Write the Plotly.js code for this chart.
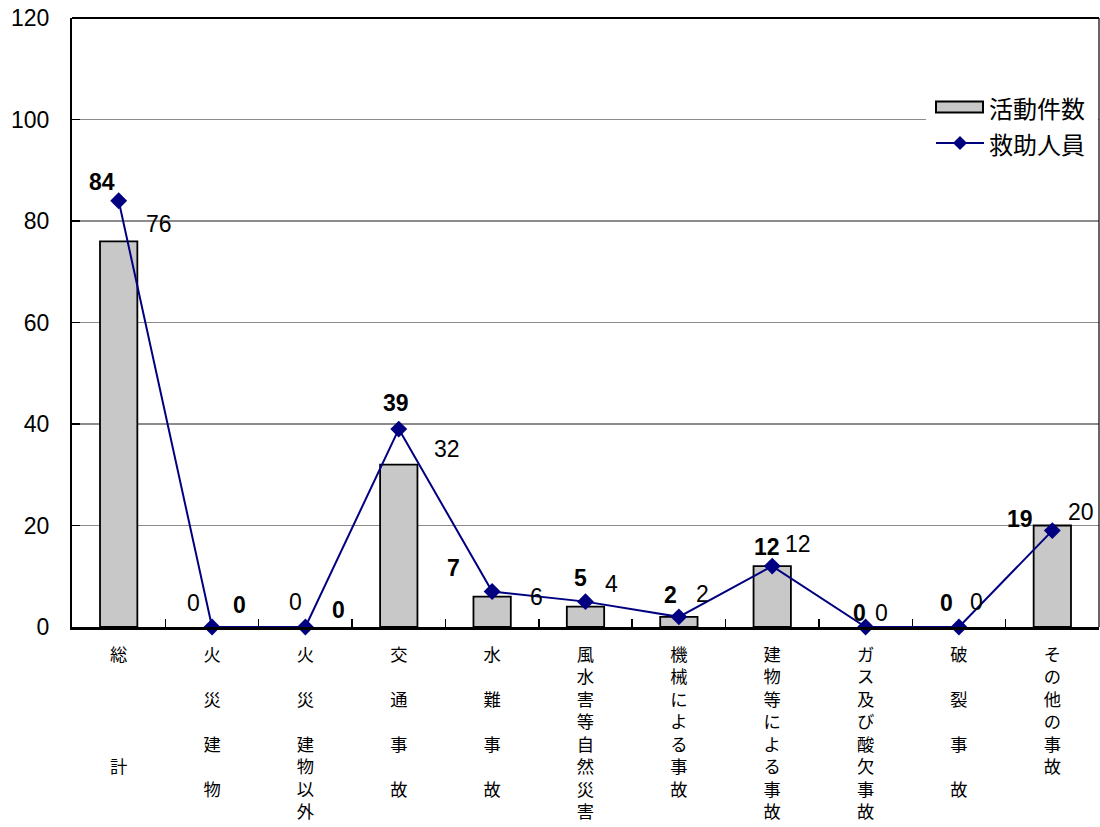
<!DOCTYPE html>
<html>
<head>
<meta charset="utf-8">
<script src="https://cdn.plot.ly/plotly-3.0.1.min.js"></script>
<style>html,body{margin:0;padding:0;background:#fff;}</style>
</head>
<body>
<div id="chart" style="width:1100px;height:827px;"></div>
<script>
// ---- data ----
var categories = ["総計","火災建物","火災建物以外","交通事故","水難事故","風水害等自然災害","機械による事故","建物等による事故","ガス及び酸欠事故","破裂事故","その他の事故"];
// vertical tick labels (blank rows = spacing as in the original)
var tickLabels = [
  ["総","","","","","計"],
  ["火","","災","","建","","物"],
  ["火","","災","","建","物","以","外"],
  ["交","","通","","事","","故"],
  ["水","","難","","事","","故"],
  ["風","水","害","等","自","然","災","害"],
  ["機","械","に","よ","る","事","故"],
  ["建","物","等","に","よ","る","事","故"],
  ["ガ","ス","及","び","酸","欠","事","故"],
  ["破","","裂","","事","","故"],
  ["そ","の","他","の","事","故"]
];
var seriesNames = ["活動件数", "救助人員"];
var activityCount = [76, 0, 0, 32, 6, 4, 2, 12, 0, 0, 20];   // 活動件数
var rescuedPeople = [84, 0, 0, 39, 7, 5, 2, 12, 0, 0, 19];   // 救助人員
var yTicks = [0, 20, 40, 60, 80, 100, 120];

// ---- label offsets (style) ----
var lineLabelDx = [-17, 27, 33, -3, -39, -5, -8, -5, -6, -12, -32];
var lineLabelDy = [19, 22, 17, 26, 23, 24, 22, 19, 14, 24, 12];
var barLabelDx  = [40, -19, -10, 48, 44, 26, 24, 26, 16, 18, 29];
var barLabelDy  = [17, 24, 25, 16, 0, 23, 23, 22, 14, 25, 14];

var numFont = "Liberation Sans, Arial, sans-serif";
var cjkFont = "Noto Sans CJK JP, sans-serif";
var barFill = "#c8c8c8";
var lineColor = "#000080";

var ticktext = tickLabels.map(function(a){
  return a.map(function(c){ return c === "" ? "\u3000" : c; }).join("<br>");
});

var traces = [
  {
    type: "bar",
    name: seriesNames[0],
    x: categories,
    y: activityCount,
    width: 0.4,
    marker: {color: barFill, line: {color: "#000000", width: activityCount.map(function(v){ return v > 0 ? 1.8 : 0; })}},
    showlegend: false
  },
  {
    type: "scatter",
    mode: "lines+markers",
    name: seriesNames[1],
    x: categories,
    y: rescuedPeople,
    cliponaxis: false,
    line: {color: lineColor, width: 2},
    marker: {symbol: "diamond", size: 13, color: lineColor},
    showlegend: false
  }
];

var annotations = [];
categories.forEach(function(c, i){
  annotations.push({
    x: c, y: rescuedPeople[i], xref: "x", yref: "y",
    text: "<b>" + rescuedPeople[i] + "</b>", showarrow: false,
    xshift: lineLabelDx[i], yshift: lineLabelDy[i],
    font: {family: numFont, size: 23, color: "#000"}
  });
  annotations.push({
    x: c, y: activityCount[i], xref: "x", yref: "y",
    text: String(activityCount[i]), showarrow: false,
    xshift: barLabelDx[i], yshift: barLabelDy[i],
    font: {family: numFont, size: 23, color: "#000"}
  });
});

// ---- custom legend (paper coords) ----
function px(x){ return (x - 72) / 1027; }
function py(y){ return (627 - y) / 609; }
annotations.push({
  xref: "paper", yref: "paper", x: px(987), y: py(107), xanchor: "left", yanchor: "middle",
  text: seriesNames[0], showarrow: false, font: {family: cjkFont, size: 24, color: "#000"}
});
annotations.push({
  xref: "paper", yref: "paper", x: px(987), y: py(143), xanchor: "left", yanchor: "middle",
  text: seriesNames[1], showarrow: false, font: {family: cjkFont, size: 24, color: "#000"}
});

var shapes = [
  {type: "line", xref: "paper", yref: "paper", x0: 0, x1: 1, y0: 1, y1: 1, line: {color: "#000", width: 2}},
  {type: "line", xref: "paper", yref: "paper", x0: 1, x1: 1, y0: 0, y1: 1, line: {color: "#000", width: 1.2}},
  // legend background
  {type: "rect", xref: "paper", yref: "paper", x0: px(926), x1: px(1098), y0: py(88), y1: py(163),
   fillcolor: "#ffffff", line: {width: 0}, layer: "above"},
  // bar symbol
  {type: "rect", xref: "paper", yref: "paper", x0: px(936), x1: px(983), y0: py(101.5), y1: py(112.5),
   fillcolor: barFill, line: {color: "#000", width: 2}},
  // line symbol
  {type: "line", xref: "paper", yref: "paper", x0: px(936), x1: px(984), y0: py(143), y1: py(143),
   line: {color: lineColor, width: 2}},
  {type: "path", xref: "paper", yref: "paper", xsizemode: "pixel", ysizemode: "pixel",
   xanchor: px(960), yanchor: py(143), path: "M0,7L7,0L0,-7L-7,0Z",
   fillcolor: lineColor, line: {color: lineColor, width: 0}}
];

var layout = {
  width: 1100, height: 827,
  margin: {l: 72, r: 1, t: 18, b: 200},
  paper_bgcolor: "#ffffff",
  plot_bgcolor: "#ffffff",
  showlegend: false,
  xaxis: {
    type: "category",
    range: [-0.5, 10.5],
    tickvals: categories,
    ticktext: ticktext,
    tickangle: 0,
    tickson: "boundaries",
    ticks: "inside",
    ticklen: 8,
    tickwidth: 1.5,
    tickcolor: "#000",
    showline: true,
    linecolor: "#000",
    linewidth: 3,
    showgrid: false,
    zeroline: false,
    tickfont: {family: cjkFont, size: 17.3, color: "#000"},
    ticklabelstandoff: 10,
    fixedrange: true
  },
  yaxis: {
    range: [0, 120],
    tickvals: yTicks,
    ticks: "inside",
    ticklen: 8,
    tickwidth: 1.5,
    tickcolor: "#000",
    showline: true,
    linecolor: "#000",
    linewidth: 2,
    showgrid: true,
    gridcolor: "#8c8c8c",
    gridwidth: 1.3,
    zeroline: false,
    tickfont: {family: numFont, size: 23, color: "#000"},
    ticklabelstandoff: 16,
    fixedrange: true
  },
  shapes: shapes,
  annotations: annotations,
  hovermode: false
};

Plotly.newPlot("chart", traces, layout, {displayModeBar: false, staticPlot: true});
</script>
</body>
</html>
